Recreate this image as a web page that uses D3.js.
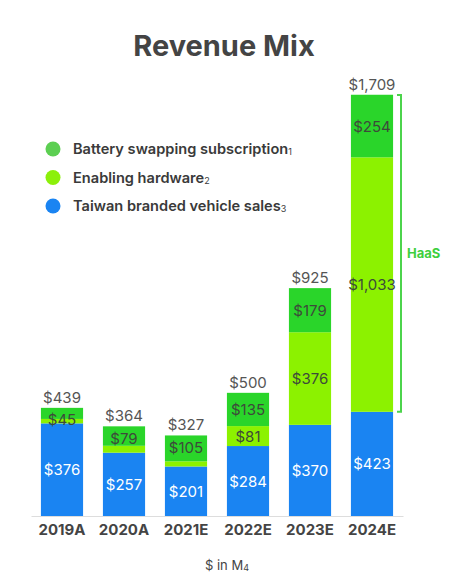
<!DOCTYPE html>
<html lang="en">
<head>
    <meta charset="UTF-8" />
    <title>Revenue Mix</title>
    <script src="https://d3js.org/d3.v7.min.js"></script>
    <style>
        body { margin: 0; background: #fff; }
        text { font-family: Inter, "Open Sans", sans-serif; }
    </style>
</head>
<body>
    <script>
        var w = 455;
        var h = 580;

        // data ($ in M)
        var years = ["2019A", "2020A", "2021E", "2022E", "2023E", "2024E"];
        var vehicleSales = [376, 257, 201, 284, 370, 423];
        var hardware = [18, 28, 21, 81, 376, 1033];
        var subscription = [45, 79, 105, 135, 179, 254];
        var totals = [439, 364, 327, 500, 925, 1709];
        var hardwareLabels = [false, false, false, true, true, true];

        var seriesNames = ["Battery swapping subscription", "Enabling hardware", "Taiwan branded vehicle sales"];
        var seriesSub = ["1", "2", "3"];
        var legendColors = ["#5ccf52", "#8cf00a", "#1a84f2"];
        var barColors = { sales: "#1a84f2", hw: "#8cf200", sub: "#2ad52a" };

        var baseY = 516;

        var svg = d3.select("body")
            .append("svg")
            .attr("width", w)
            .attr("height", h);

        var xScale = d3.scaleBand()
            .domain(years)
            .range([31, 403])
            .paddingInner(0.32)
            .paddingOuter(0.16);

        var yScale = d3.scaleLinear()
            .domain([0, 1709])
            .range([baseY, 95]);

        // title
        svg.append("text")
            .attr("x", 224)
            .attr("y", 56)
            .attr("text-anchor", "middle")
            .attr("font-size", 29)
            .attr("font-weight", 700)
            .attr("fill", "#444")
            .text("Revenue Mix");

        // stacked rows
        var rows = years.map(function(y, i) {
            return { year: y, sales: vehicleSales[i], hw: hardware[i], sub: subscription[i], i: i };
        });
        var stack = d3.stack().keys(["sales", "hw", "sub"]);
        var layers = stack(rows);

        svg.selectAll("g.layer")
            .data(layers)
            .enter()
            .append("g")
            .attr("fill", function(d) { return barColors[d.key]; })
            .selectAll("rect")
            .data(function(d) { return d; })
            .enter()
            .append("rect")
            .attr("x", function(d) { return xScale(d.data.year); })
            .attr("width", xScale.bandwidth())
            .attr("y", function(d) { return yScale(d[1]); })
            .attr("height", function(d) { return yScale(d[0]) - yScale(d[1]); });

        // segment labels
        layers.forEach(function(layer) {
            layer.forEach(function(d, i) {
                var key = layer.key;
                if (key == "hw" && !hardwareLabels[i]) return;
                var v = d.data[key];
                var mid = (yScale(d[0]) + yScale(d[1])) / 2;
                if (key == "sub" && !hardwareLabels[i]) mid = yScale(d[1]) + 12;
                svg.append("text")
                    .attr("x", xScale(d.data.year) + xScale.bandwidth() / 2)
                    .attr("y", mid + 5.5)
                    .attr("text-anchor", "middle")
                    .attr("font-size", 15)
                    .attr("fill", key == "sales" ? "#fff" : "#3d4a3a")
                    .text("$" + d3.format(",")(v));
            });
        });

        // totals
        svg.selectAll("text.total")
            .data(rows)
            .enter()
            .append("text")
            .attr("class", "total")
            .attr("x", function(d) { return xScale(d.year) + xScale.bandwidth() / 2; })
            .attr("y", function(d, i) { return yScale(totals[i]) - 5; })
            .attr("text-anchor", "middle")
            .attr("font-size", 15)
            .attr("fill", "#555")
            .text(function(d, i) { return "$" + d3.format(",")(totals[i]); });

        // axis
        var xAxis = svg.append("g")
            .attr("transform", "translate(0," + baseY + ")")
            .call(d3.axisBottom(xScale).tickSize(0).tickPadding(8));
        xAxis.select(".domain").attr("stroke", "#ddd");
        xAxis.selectAll("text")
            .attr("font-size", 15)
            .attr("font-weight", 700)
            .attr("fill", "#444")
            .style("font-family", "Inter, sans-serif");

        // HaaS bracket
        var bx = 401;
        var by0 = yScale(1709);
        var by1 = yScale(423);
        svg.append("path")
            .attr("d", "M" + (bx - 4) + "," + by0 + "H" + bx + "V" + by1 + "H" + (bx - 4))
            .attr("fill", "none")
            .attr("stroke", "#4cd44c")
            .attr("stroke-width", 2);
        svg.append("text")
            .attr("x", 407)
            .attr("y", 258)
            .attr("font-size", 13)
            .attr("font-weight", 700)
            .attr("fill", "#3ecf3e")
            .text("HaaS");

        // legend
        var legend = svg.selectAll("g.legend")
            .data(seriesNames)
            .enter()
            .append("g")
            .attr("transform", function(d, i) { return "translate(53," + (149 + i * 28.5) + ")"; });
        legend.append("circle")
            .attr("r", 7.5)
            .attr("fill", function(d, i) { return legendColors[i]; });
        var lt = legend.append("text")
            .attr("x", 20)
            .attr("y", 5)
            .attr("font-size", 14.6)
            .attr("font-weight", 600)
            .attr("fill", "#3a3a3a");
        lt.append("tspan").text(function(d) { return d; });
        lt.append("tspan")
            .attr("font-size", 9)
            .attr("font-weight", 400)
            .attr("dy", 1)
            .text(function(d, i) { return seriesSub[i]; });

        // unit note
        var note = svg.append("text")
            .attr("x", 227)
            .attr("y", 570)
            .attr("text-anchor", "middle")
            .attr("font-size", 13)
            .attr("fill", "#444");
        note.append("tspan").text("$ in M");
        note.append("tspan").attr("font-size", 9).attr("dy", 1).text("4");
    </script>
</body>
</html>
